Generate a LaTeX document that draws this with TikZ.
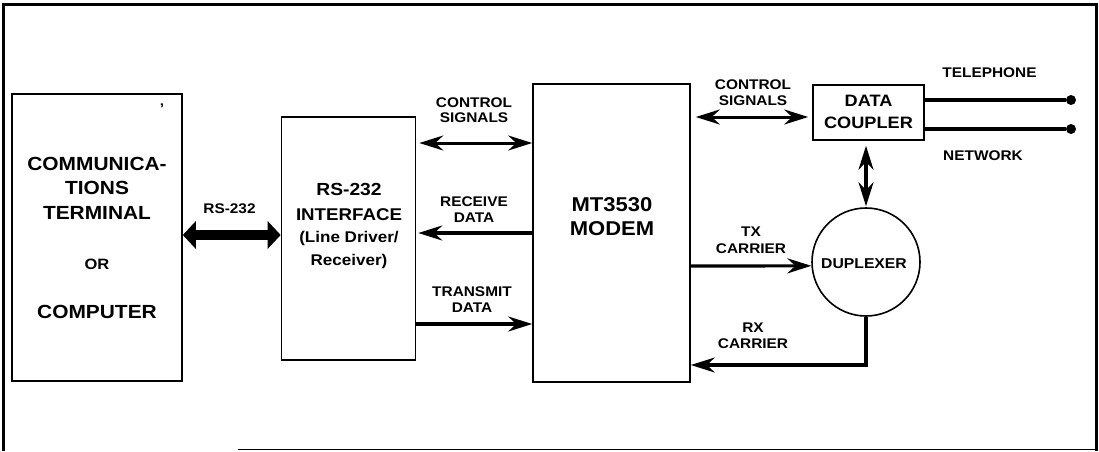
\documentclass[tikz,border=0pt]{standalone}
\usepackage{fontspec}
\setmainfont{Liberation Sans}[FakeStretch=1.1]
\usetikzlibrary{arrows.meta}
\begin{document}
\begin{tikzpicture}[x=1pt,y=-1pt,
  box/.style={draw, line width=1.6pt, rectangle, inner sep=0pt},
  big/.style={font=\bfseries\fontsize{19}{23}\selectfont, anchor=base, inner sep=0pt},
  mid/.style={font=\bfseries\fontsize{16.5}{20}\selectfont, anchor=base, inner sep=0pt},
  lab/.style={font=\bfseries\fontsize{14}{16}\selectfont, anchor=base, inner sep=0pt},
  sarrow/.style={line width=3.2pt, -{Stealth[length=24pt,width=15pt,inset=8pt]}},
  darrow/.style={line width=3pt, {Stealth[length=24pt,width=15pt,inset=8pt]}-{Stealth[length=24pt,width=15pt,inset=8pt]}},
  fatarrow/.style={line width=9.5pt, {Triangle[length=13pt,width=27pt]}-{Triangle[length=13pt,width=27pt]}},
  dot/.style={circle, fill, inner sep=0pt, minimum size=10pt},
  wire/.style={line width=3.5pt}
]
\useasboundingbox (0,0) rectangle (1099,451);
\fill[white] (0,0) rectangle (1099,451);
% frame
\draw[line width=3pt] (3.5,451) -- (3.5,4) -- (1096,4) -- (1096,451);
\draw[line width=1.5pt] (238,449.5) -- (1096,449.5);

% blocks
\node[box, minimum width=170pt, minimum height=287pt] (term) at (97,237.5) {};
\node[box, minimum width=134pt, minimum height=243pt] (iface) at (348.5,238.5) {};
\node[box, minimum width=157pt, minimum height=298pt] (modem) at (611.5,233) {};
\node[box, minimum width=111pt, minimum height=55pt] (coupler) at (868.5,112.5) {};
\node[draw, line width=1.6pt, circle, inner sep=0pt, minimum size=108pt] (dup) at (866,262) {};

% block texts
\node[big] (t1) at (97,170.8) {COMMUNICA-};
\node[big] (t2) at (97,194.8) {TIONS};
\node[big] (t3) at (97,219.8) {TERMINAL};
\node[font=\bfseries\fontsize{15}{18}\selectfont, anchor=base, inner sep=0pt] (t4) at (97,269.5) {OR};
\node[big] (t5) at (97,318.8) {COMPUTER};
\node[lab] (tick) at (162,113) {’};

\node[font=\bfseries\fontsize{17.5}{21}\selectfont, anchor=base, inner sep=0pt] (i1) at (349,195.5) {RS-232};
\node[font=\bfseries\fontsize{17}{21}\selectfont, anchor=base, inner sep=0pt] (i2) at (349,220) {INTERFACE};
\node[font=\bfseries\fontsize{15.5}{19}\selectfont, anchor=base, inner sep=0pt] (i3) at (349,242) {(Line Driver/};
\node[font=\bfseries\fontsize{15.5}{19}\selectfont, anchor=base, inner sep=0pt] (i4) at (349,265) {Receiver)};

\node[font=\bfseries\fontsize{20}{24}\selectfont, anchor=base, inner sep=0pt] (m1) at (612,211) {MT3530};
\node[font=\bfseries\fontsize{20}{24}\selectfont, anchor=base, inner sep=0pt] (m2) at (612,235) {MODEM};

\node[mid] (c1) at (868.5,106.5) {DATA};
\node[mid] (c2) at (868.5,128) {COUPLER};

\node[font=\bfseries\fontsize{14.3}{17}\selectfont, anchor=base, inner sep=0pt] (d1) at (864,268) {DUPLEXER};

% labels
\node[lab] (lrs) at (229.5,213) {RS-232};
\node[lab] (lc1a) at (474,107) {CONTROL};
\node[lab] (lc1b) at (474,122) {SIGNALS};
\node[lab] (lrda) at (474,206) {RECEIVE};
\node[lab] (lrdb) at (474,222) {DATA};
\node[lab] (ltda) at (472,296) {TRANSMIT};
\node[lab] (ltdb) at (472,312) {DATA};
\node[lab] (lc2a) at (753,89) {CONTROL};
\node[lab] (lc2b) at (753,105) {SIGNALS};
\node[lab] (ltxa) at (751,236) {TX};
\node[lab] (ltxb) at (751,253) {CARRIER};
\node[lab] (lrxa) at (753,332) {RX};
\node[lab] (lrxb) at (753,348) {CARRIER};
\node[lab] (ltel) at (989.5,77) {TELEPHONE};
\node[lab] (lnet) at (983,160) {NETWORK};

% terminals of the telephone network
\node[dot] (p1) at (1071,100) {};
\node[dot] (p2) at (1071,129) {};

% connectors
\draw[fatarrow] (term.east |- 0,235) -- (iface.west |- 0,235);
\draw[darrow, shorten <=3pt] (iface.east |- 0,143) -- (modem.west |- 0,143);
\draw[sarrow, shorten >=2pt] (modem.west |- 0,233) -- (iface.east |- 0,233);
\draw[sarrow] (iface.east |- 0,324) -- (modem.west |- 0,324);
\draw[darrow, shorten <=5pt, shorten >=4pt] (modem.east |- 0,117) -- (coupler.west |- 0,117);
\draw[darrow, line width=3.5pt, shorten <=5pt, shorten >=1pt] (dup.north |- coupler.south) -- (dup.north);
\draw[sarrow] (modem.east |- 0,266) -- (dup.184);
\draw[sarrow, line join=miter] (dup.south) |- (modem.east |- 0,365);
\draw[wire] (coupler.east |- p1) -- (p1);
\draw[wire] (coupler.east |- p2) -- (p2);
\end{tikzpicture}
\end{document}
